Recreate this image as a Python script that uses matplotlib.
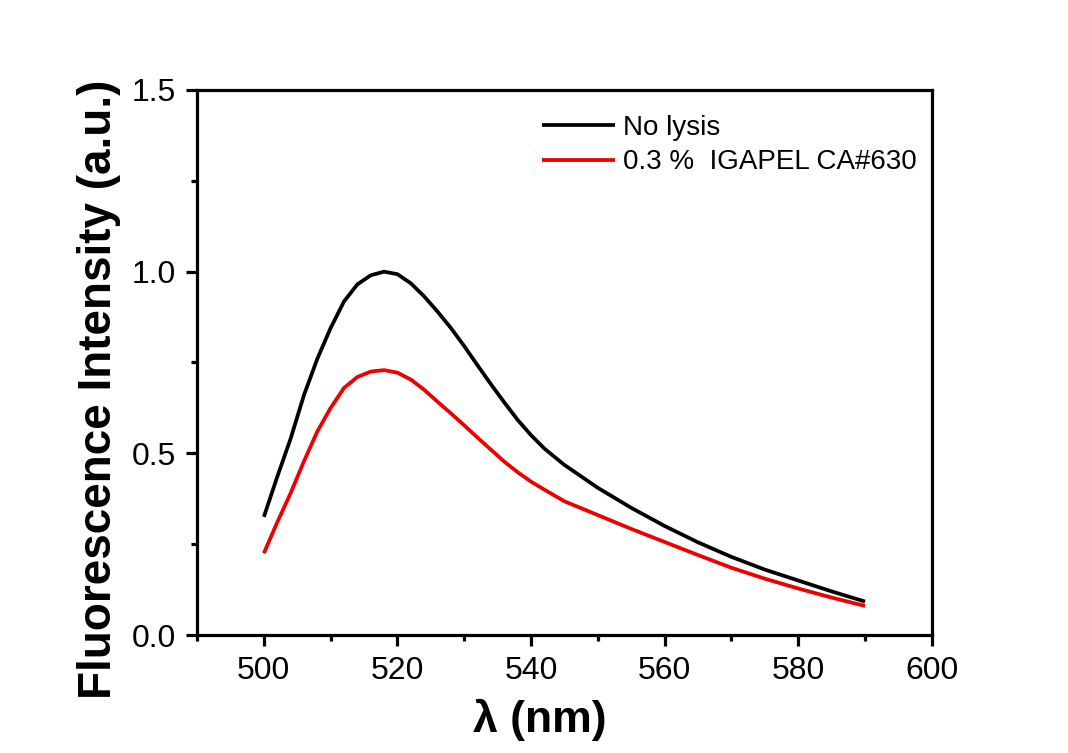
import matplotlib.pyplot as plt
from matplotlib.ticker import MultipleLocator, FormatStrFormatter

plt.rcParams['font.family'] = ['Liberation Sans', 'DejaVu Sans']

# wavelength (nm)
wl = [500, 502, 504, 506, 508, 510, 512, 514, 516, 518, 520, 522, 524, 526, 528,
      530, 532, 534, 536, 538, 540, 542, 545, 550, 555, 560, 565, 570, 575, 580, 585, 590]

# no lysis
no_lysis = [0.325, 0.435, 0.54, 0.66, 0.76, 0.845, 0.918, 0.965, 0.99, 1.0, 0.993, 0.968,
            0.932, 0.89, 0.845, 0.795, 0.742, 0.69, 0.64, 0.592, 0.55, 0.513, 0.468,
            0.405, 0.35, 0.30, 0.255, 0.215, 0.18, 0.15, 0.12, 0.092]

# 0.3 % IGAPEL CA#630
igapel = [0.225, 0.31, 0.39, 0.478, 0.56, 0.625, 0.68, 0.71, 0.725, 0.729, 0.722, 0.703,
          0.675, 0.642, 0.61, 0.577, 0.543, 0.51, 0.477, 0.448, 0.422, 0.4, 0.368,
          0.33, 0.292, 0.256, 0.22, 0.185, 0.155, 0.128, 0.103, 0.08]

fig = plt.figure(figsize=(10.68, 7.53), dpi=100)
ax = fig.add_axes([0.1845, 0.1567, 0.688, 0.7238])

ax.plot(wl, no_lysis, color='black', linewidth=2.7, label='No lysis',
        solid_joinstyle='round', solid_capstyle='butt')
ax.plot(wl, igapel, color='#ee0000', linewidth=2.7, label='0.3 %  IGAPEL CA#630',
        solid_joinstyle='round', solid_capstyle='butt')

ax.set_xlim(490, 600)
ax.set_ylim(0, 1.5)
ax.xaxis.set_major_locator(MultipleLocator(20))
ax.xaxis.set_minor_locator(MultipleLocator(10))
ax.yaxis.set_major_locator(MultipleLocator(0.5))
ax.yaxis.set_minor_locator(MultipleLocator(0.25))
ax.yaxis.set_major_formatter(FormatStrFormatter('%.1f'))

ax.tick_params(which='major', direction='out', length=8, width=2.3, labelsize=23, pad=7)
ax.tick_params(which='minor', direction='out', length=4, width=2.3)
for s in ax.spines.values():
    s.set_linewidth(2.3)

ax.set_xlabel('λ (nm)', fontsize=32, fontweight='bold')
ax.set_ylabel('Fluorescence Intensity (a.u.)', fontsize=33, fontweight='bold')
ax.xaxis.set_label_coords(0.467, -0.117)
ax.yaxis.set_label_coords(-0.103, 0.45)

ax.legend(loc='upper left', bbox_to_anchor=(0.436, 1.0), frameon=False, fontsize=20,
          handlelength=2.6, handletextpad=0.3, labelspacing=0.3)

plt.savefig('out.png', dpi=100)
